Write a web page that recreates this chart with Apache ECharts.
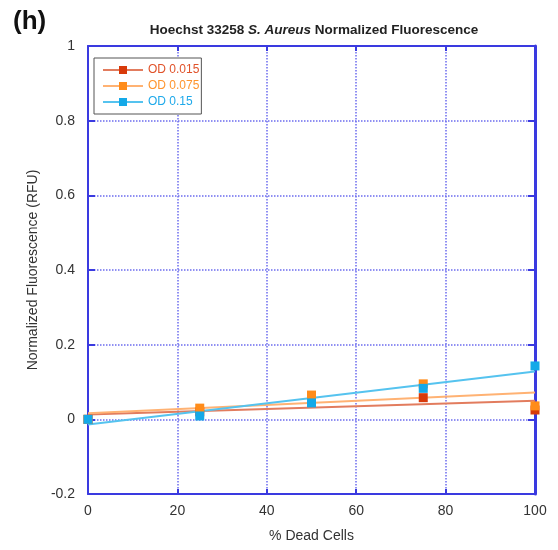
<!DOCTYPE html>
<html>
<head>
<meta charset="utf-8">
<script src="https://cdn.jsdelivr.net/npm/echarts@6/dist/echarts.min.js"></script>
<style>
  html, body { margin: 0; padding: 0; background: #fff; }
  #chart { width: 558px; height: 550px; }
</style>
</head>
<body>
<div id="chart"></div>
<script>
// values
const deadCells = [0, 25, 50, 75, 100]
const od015 = [0, 0.02, 0.055, 0.058, 0.025]
const od075 = [0, 0.03, 0.065, 0.095, 0.036]
const od15 = [0, 0.009, 0.044, 0.083, 0.143]
// fitted line end values at x = 0 and x = 100
const fitX = [0, 100]
const fit015 = [0.013, 0.05]
const fit075 = [0.016, 0.072]
const fit15 = [-0.014, 0.128]

const seriesNames = ['OD 0.015', 'OD 0.075', 'OD 0.15']
const markerColors = ['#d83a0b', '#ff8c1a', '#14a9e8']
const lineColors = ['#e27c5e', '#ffb273', '#55c3ef']
const labelColors = ['#e0522a', '#ff952e', '#1ea9ea']

const pointSets = [od015, od075, od15]
const fitSets = [fit015, fit075, fit15]

const chart = echarts.init(document.getElementById('chart'))
const font = 'Liberation Sans, Arial, sans-serif'
const blue = '#3a3ae0'

const series = []
seriesNames.forEach((name, i) => {
  series.push({
    name,
    type: 'line',
    data: fitX.map((x, k) => [x, fitSets[i][k]]),
    symbol: 'rect',
    symbolSize: 9,
    showSymbol: false,
    itemStyle: { color: markerColors[i] },
    lineStyle: { color: lineColors[i], width: 2 },
    z: 2,
    silent: true,
  })
})
seriesNames.forEach((name, i) => {
  series.push({
    name,
    type: 'scatter',
    data: deadCells.map((x, k) => [x, pointSets[i][k]]),
    symbol: 'rect',
    symbolSize: 9,
    itemStyle: { color: markerColors[i], opacity: 1 },
    z: 3,
  })
})

chart.setOption({
  animation: false,
  textStyle: { fontFamily: font },
  title: [
    {
      text: '(h)',
      left: 8,
      top: 4,
      textStyle: { fontSize: 26, fontWeight: 'bold', color: '#111', fontFamily: font },
    },
    {
      text: '{b|Hoechst 33258 }{i|S. Aureus}{b| Normalized Fluorescence}',
      left: 309,
      top: 18,
      textAlign: 'center',
      textStyle: {
        rich: {
          b: { fontSize: 13.5, fontWeight: 'bold', color: '#222', fontFamily: font },
          i: { fontSize: 13.5, fontWeight: 'bold', fontStyle: 'italic', color: '#222', fontFamily: font },
        },
      },
    },
  ],
  legend: {
    left: 94,
    top: 58,
    orient: 'vertical',
    padding: [6, 2, 6, 8],
    itemGap: 4,
    itemWidth: 40,
    itemHeight: 10,
    borderColor: '#555',
    borderWidth: 1,
    backgroundColor: '#fff',
    z: 10,
    data: seriesNames.map((name, i) => ({
      name,
      textStyle: { color: labelColors[i], fontSize: 12, fontFamily: font },
    })),
  },
  grid: { left: 88, right: 23, top: 46, bottom: 56, show: false },
  xAxis: [
    {
      type: 'value',
      min: 0,
      max: 100,
      interval: 20,
      name: '% Dead Cells',
      nameLocation: 'middle',
      nameGap: 35,
      nameTextStyle: { fontSize: 14, color: '#333' },
      axisLine: { onZero: false, lineStyle: { color: blue, width: 2 } },
      axisTick: { inside: true, length: 5, lineStyle: { color: blue, width: 2 } },
      axisLabel: { fontSize: 14, color: '#333', margin: 10 },
      splitLine: { show: true, lineStyle: { color: '#6c6cee', type: 'dotted', width: 1.5 } },
    },
    {
      type: 'value',
      position: 'top',
      min: 0,
      max: 100,
      interval: 20,
      axisLine: { show: true, onZero: false, lineStyle: { color: blue, width: 2 } },
      axisTick: { show: true, inside: true, length: 5, lineStyle: { color: blue, width: 2 } },
      axisLabel: { show: false },
      splitLine: { show: false },
    },
  ],
  yAxis: [
    {
      type: 'value',
      min: -0.2,
      max: 1,
      interval: 0.2,
      name: 'Normalized Fluorescence (RFU)',
      nameLocation: 'middle',
      nameGap: 48,
      nameTextStyle: { fontSize: 14, color: '#333' },
      axisLine: { show: true, onZero: false, lineStyle: { color: blue, width: 2 } },
      axisTick: { show: true, inside: true, length: 7, lineStyle: { color: blue, width: 2 } },
      axisLabel: {
        fontSize: 14,
        color: '#333',
        margin: 13,
        formatter: (v) => String(Math.round(v * 10) / 10),
      },
      splitLine: { show: true, lineStyle: { color: '#6c6cee', type: 'dotted', width: 1.5 } },
    },
    {
      type: 'value',
      position: 'right',
      min: -0.2,
      max: 1,
      interval: 0.2,
      axisLine: { show: true, onZero: false, lineStyle: { color: blue, width: 3 } },
      axisTick: { show: true, inside: true, length: 7, lineStyle: { color: blue, width: 2 } },
      axisLabel: { show: false },
      splitLine: { show: false },
    },
  ],
  series,
})
</script>
</body>
</html>
